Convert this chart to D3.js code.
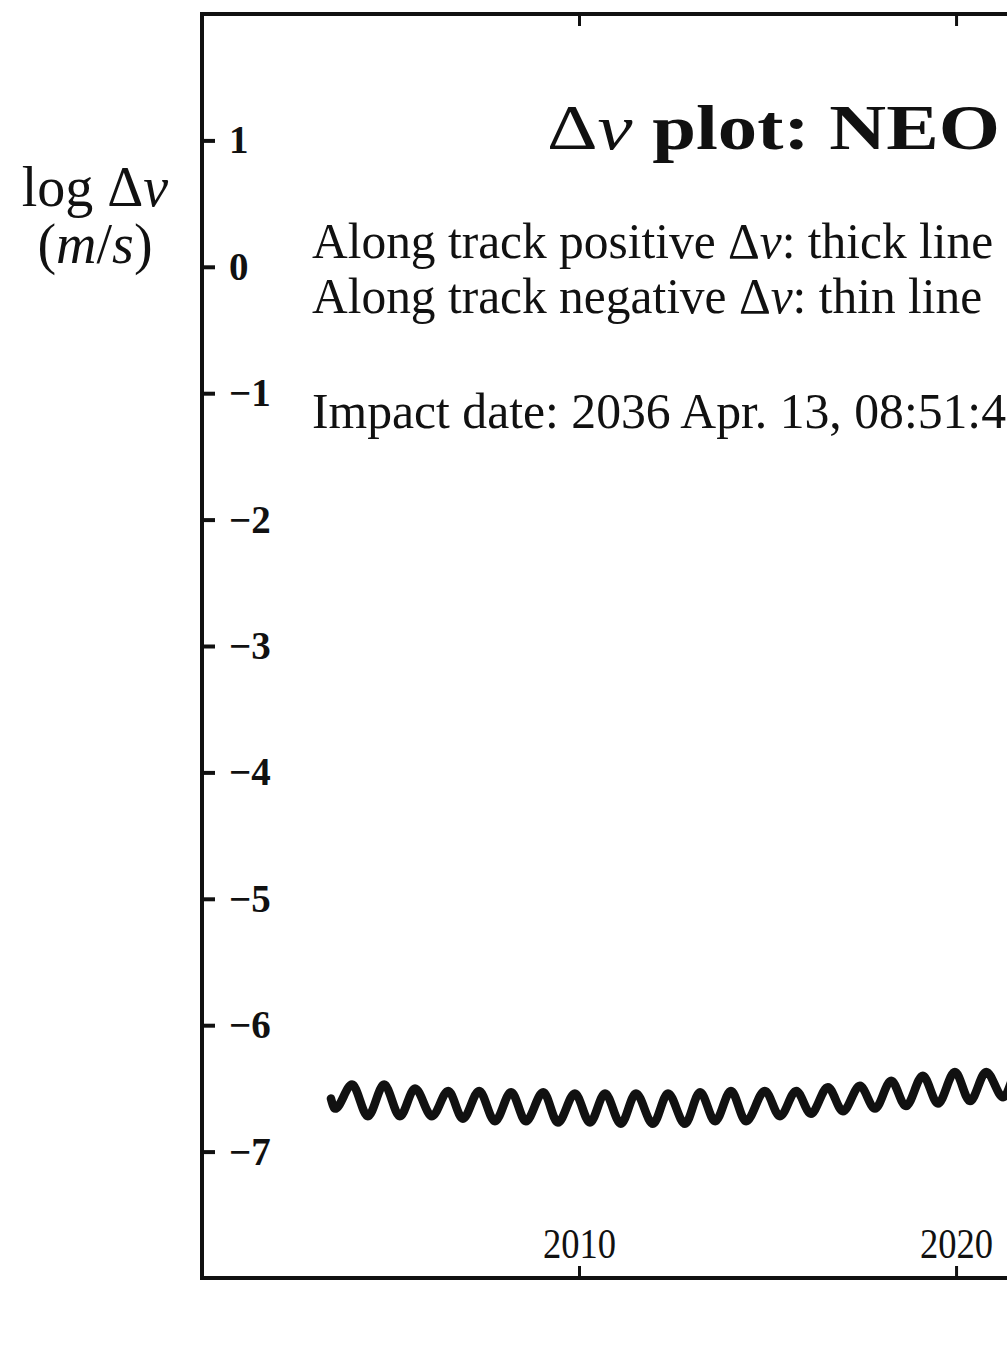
<!DOCTYPE html>
<html>
<head>
<meta charset="utf-8">
<script src="https://d3js.org/d3.v7.min.js"></script>
<style>
  html, body { margin: 0; padding: 0; background: #fff; overflow: hidden; }
  svg { display: block; }
  text { font-family: "Liberation Serif", "Times New Roman", serif; fill: #111; }
</style>
</head>
<body>
<svg id="chart" width="1007" height="1354"></svg>
<script>
// Epoch of the deflection manoeuvre (years) and log10 of the required along-track Δv (m/s)
const epochs = [
  2003.42, 2003.53, 2003.98, 2004.40, 2004.83, 2005.25, 2005.65, 2006.10,
  2006.53, 2006.92, 2007.35, 2007.77, 2008.20, 2008.59, 2009.05, 2009.44,
  2009.89, 2010.29, 2010.69, 2011.11, 2011.51, 2011.96, 2012.36, 2012.81,
  2013.21, 2013.61, 2014.03, 2014.43, 2014.93, 2015.33, 2015.76, 2016.15,
  2016.60, 2017.00, 2017.45, 2017.85, 2018.28, 2018.67, 2019.12, 2019.52,
  2019.97, 2020.37, 2020.80, 2021.25, 2021.66, 2022.08
];
const logDvPositive = [
  -6.58, -6.66, -6.47, -6.72, -6.47, -6.72, -6.50, -6.72,
  -6.52, -6.74, -6.52, -6.76, -6.53, -6.76, -6.53, -6.77,
  -6.54, -6.77, -6.54, -6.78, -6.54, -6.78, -6.54, -6.78,
  -6.53, -6.76, -6.52, -6.76, -6.52, -6.72, -6.52, -6.70,
  -6.49, -6.68, -6.48, -6.66, -6.44, -6.64, -6.40, -6.62,
  -6.37, -6.60, -6.37, -6.57, -6.34, -6.55
];

const yTickValues = [-7, -6, -5, -4, -3, -2, -1, 0, 1];
const xTickValues = [2010, 2020, 2030];

const titleText = "plot: NEO 2004 MN4";
const infoPositive = "Along track positive Δ";
const infoNegative = "Along track negative Δ";
const impactText = "Impact date: 2036 Apr. 13, 08:51:46 UT";

const svg = d3.select("#chart");

// plot frame (extends past the right side of the canvas)
const frameL = 202, frameT = 14, frameB = 1278, frameR = 1597;

const x = d3.scaleLinear().domain([2000, 2037]).range([frameL, frameR]);
const y = d3.scaleLinear().domain([-8, 2]).range([frameB, frameT]);

// frame
svg.append("rect")
  .attr("x", frameL).attr("y", frameT)
  .attr("width", frameR - frameL).attr("height", frameB - frameT)
  .attr("fill", "none").attr("stroke", "#111").attr("stroke-width", 4);

// left axis: ticks point into the frame, labels inside
const yAxis = svg.append("g")
  .attr("transform", `translate(${frameL},0)`)
  .call(d3.axisRight(y).tickValues(yTickValues).tickSize(13).tickPadding(14).tickFormat(d3.format("d")));
yAxis.select(".domain").remove();
yAxis.selectAll(".tick line").attr("stroke", "#111").attr("stroke-width", 4);
yAxis.selectAll(".tick text")
  .attr("font-family", "Liberation Serif, serif")
  .attr("font-size", 39).attr("font-weight", "bold").attr("fill", "#111");

// bottom axis: ticks upward, labels above them
const xAxis = svg.append("g")
  .attr("transform", `translate(0,${frameB})`)
  .call(d3.axisTop(x).tickValues(xTickValues).tickSize(12).tickPadding(8).tickFormat(d3.format("d")));
xAxis.select(".domain").remove();
xAxis.selectAll(".tick line").attr("stroke", "#111").attr("stroke-width", 3);
xAxis.selectAll(".tick text")
  .attr("font-family", "Liberation Serif, serif")
  .attr("font-size", 42).attr("fill", "#111")
  .attr("transform", "scale(0.87,1)");

// top axis: ticks only
const xTop = svg.append("g")
  .attr("transform", `translate(0,${frameT})`)
  .call(d3.axisBottom(x).tickValues(xTickValues).tickSize(12).tickFormat(""));
xTop.select(".domain").remove();
xTop.selectAll(".tick line").attr("stroke", "#111").attr("stroke-width", 3);

// y-axis title
const yTitle = svg.append("text").attr("font-size", 56).attr("text-anchor", "middle")
  .attr("x", 95).attr("y", 206);
yTitle.append("tspan").text("log Δ");
yTitle.append("tspan").attr("font-style", "italic").text("v");
const ms = svg.append("text").attr("font-size", 56).attr("text-anchor", "middle")
  .attr("x", 95).attr("y", 263);
ms.append("tspan").text("(");
ms.append("tspan").attr("font-style", "italic").text("m");
ms.append("tspan").text("/");
ms.append("tspan").attr("font-style", "italic").text("s");
ms.append("tspan").text(")");

// chart title
const title = svg.append("text")
  .attr("transform", "translate(547,149) scale(1.23,1)")
  .attr("font-size", 64).attr("font-weight", "bold");
title.append("tspan").attr("font-weight", "normal").text("Δ");
title.append("tspan").attr("font-weight", "normal").attr("font-style", "italic").text("v");
title.append("tspan").text(" " + titleText);

// legend / info lines
function infoLine(prefix, suffix, yPos) {
  const t = svg.append("text").attr("transform", `translate(312,${yPos}) scale(1.03,1.04)`)
    .attr("font-size", 48);
  t.append("tspan").text(prefix);
  t.append("tspan").attr("font-style", "italic").text("v");
  t.append("tspan").text(suffix);
}
infoLine(infoPositive, ": thick line", 258);
infoLine(infoNegative, ": thin line", 313);
svg.append("text").attr("transform", "translate(312,428) scale(1.035,1.04)")
  .attr("font-size", 48).text(impactText);

// Δv curve (positive along-track, thick line)
const pts = epochs.map((e, i) => [e, logDvPositive[i]]);
const line = d3.line().x(d => x(d[0])).y(d => y(d[1])).curve(d3.curveMonotoneX);
svg.append("path")
  .datum(pts)
  .attr("d", line)
  .attr("fill", "none")
  .attr("stroke", "#111")
  .attr("stroke-width", 8.5)
  .attr("stroke-linejoin", "round")
  .attr("stroke-linecap", "round");
</script>
</body>
</html>
